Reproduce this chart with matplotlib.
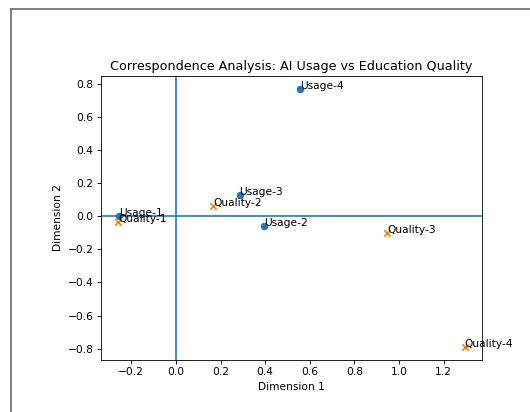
import matplotlib
matplotlib.use("Agg")
import matplotlib.pyplot as plt
from matplotlib.lines import Line2D

usage_labels = ["Usage-1", "Usage-2", "Usage-3", "Usage-4"]
usage_x = [-0.256, 0.397, 0.285, 0.557]
usage_y = [0.004, -0.061, 0.130, 0.771]

quality_labels = ["Quality-1", "Quality-2", "Quality-3", "Quality-4"]
quality_x = [-0.258, 0.168, 0.947, 1.294]
quality_y = [-0.036, 0.065, -0.101, -0.791]

W, H = 530, 412
dpi = 76.8
fig = plt.figure(figsize=(W / dpi, H / dpi), dpi=dpi)

# outer frame of the screenshot (top and left edge only)
fig.add_artist(Line2D([11 / W, 11 / W], [0, 1 - 9 / H], color="#6e6e6e", lw=1.6))
fig.add_artist(Line2D([11 / W, 1], [1 - 9 / H, 1 - 9 / H], color="#6e6e6e", lw=1.6))

ax = fig.add_axes([101 / W, 1 - 360 / H, 381 / W, 284 / H])

ax.scatter(usage_x, usage_y, marker="o")
for lab, x, y in zip(usage_labels, usage_x, usage_y):
    ax.text(x, y, lab)

ax.scatter(quality_x, quality_y, marker="x")
for lab, x, y in zip(quality_labels, quality_x, quality_y):
    ax.text(x, y, lab)

ax.axhline(0)
ax.axvline(0)

ax.set_title("Correspondence Analysis: AI Usage vs Education Quality")
ax.set_xlabel("Dimension 1")
ax.set_ylabel("Dimension 2")

fig.savefig("out.png", dpi=dpi)
